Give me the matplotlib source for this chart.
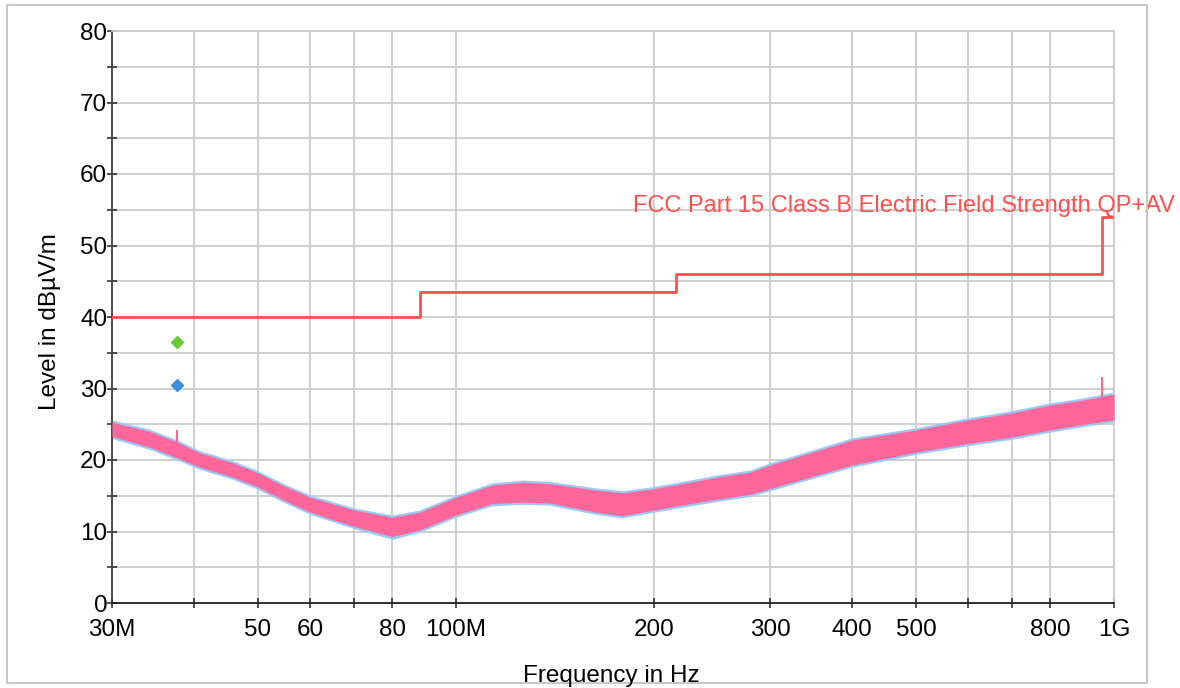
import matplotlib
matplotlib.use("Agg")
import matplotlib.pyplot as plt
from matplotlib.patches import Rectangle
from matplotlib.ticker import FixedLocator, NullLocator, MultipleLocator
import matplotlib.transforms as mtransforms

plt.rcParams['font.family'] = ['Liberation Sans', 'DejaVu Sans']

# ---------------- data ----------------
# Limit line (FCC Part 15 Class B, QP+AV), MHz / dBµV/m
limit_freq = [30, 88, 216, 960, 1000]
limit_level = [40, 43.5, 46, 54, 54]
limit_label = "FCC Part 15 Class B Electric Field Strength QP+AV"

trace_freq = [30, 34.2, 37.7, 40.8, 45.8, 50, 54.4, 60, 70, 80, 88, 100,
              113.5, 126, 138.6, 163, 179, 200, 224, 249, 280, 300, 400,
              500, 600, 700, 800, 900, 1000]
pink_low = [23.3, 21.8, 20.3, 19.0, 17.6, 16.2, 14.5, 12.7, 10.7, 9.3, 10.2, 12.3,
            13.9, 14.1, 14.0, 12.7, 12.2, 13.0, 13.8, 14.5, 15.2, 16.0, 19.3,
            21.1, 22.3, 23.2, 24.2, 25.0, 25.6]
pink_high = [25.3, 24.0, 22.5, 21.0, 19.6, 18.2, 16.5, 14.8, 13.0, 12.0, 12.7, 14.8,
             16.5, 16.9, 16.7, 15.8, 15.4, 16.0, 16.8, 17.6, 18.3, 19.3, 22.8,
             24.2, 25.6, 26.6, 27.7, 28.4, 29.2]
blue_low = [23.0, 21.5, 20.0, 18.7, 17.3, 15.9, 14.2, 12.4, 10.4, 8.9, 9.9, 12.0,
            13.6, 13.8, 13.7, 12.4, 11.9, 12.7, 13.5, 14.2, 14.9, 15.7, 19.0,
            20.8, 22.0, 22.9, 23.9, 24.7, 25.3]
blue_high = [25.6, 24.3, 22.8, 21.3, 19.9, 18.5, 16.8, 15.1, 13.3, 12.3, 13.0, 15.1,
             16.8, 17.2, 17.0, 16.1, 15.7, 16.3, 17.1, 17.9, 18.6, 19.6, 23.1,
             24.5, 25.9, 26.9, 28.0, 28.7, 29.5]

# Isolated spikes (MHz, bottom, top)
spike_freq = [37.7, 960]
spike_low = [20.5, 27.0]
spike_high = [24.2, 31.6]

# Final measurement markers
qp_freq = [37.7]
qp_level = [36.5]
av_freq = [37.7]
av_level = [30.5]

# Axis ticks
xtick_vals = [30, 40, 50, 60, 70, 80, 100, 200, 300, 400, 500, 600, 700, 800, 1000]
xtick_labels = ['30M', '', '50', '60', '', '80', '100M', '200', '300', '400',
                '500', '', '', '800', '1G']
ytick_vals = [0, 10, 20, 30, 40, 50, 60, 70, 80]

# ---------------- figure ----------------
W, H = 1180, 688
fig = plt.figure(figsize=(W / 100, H / 100), dpi=100)
ax = fig.add_axes([112 / W, 1 - 603 / H, (1114 - 112) / W, (603 - 31) / H])

ax.set_xscale('log')
ax.set_xlim(30, 1000)
ax.set_ylim(0, 80)

grid_col = '#cccccc'
ax.xaxis.set_major_locator(FixedLocator(xtick_vals))
ax.xaxis.set_minor_locator(NullLocator())
ax.set_xticklabels(xtick_labels)
ax.yaxis.set_major_locator(FixedLocator(ytick_vals))
ax.yaxis.set_minor_locator(MultipleLocator(5))
ax.grid(True, which='both', color=grid_col, linewidth=1.3)
ax.set_axisbelow(True)

for s in ['top', 'right']:
    ax.spines[s].set_color(grid_col)
    ax.spines[s].set_linewidth(1.3)
ax.spines['left'].set_color('#404040')
ax.spines['bottom'].set_color('#202020')
ax.spines['left'].set_linewidth(1.3)
ax.spines['bottom'].set_linewidth(1.3)

ax.tick_params(axis='both', which='both', direction='inout', length=7, width=1.1,
               colors='#202020', labelsize=17.5, labelcolor='black')
ax.tick_params(axis='x', pad=8)
ax.tick_params(axis='y', pad=0)

# trace
ax.fill_between(trace_freq, blue_low, blue_high, color='#99c9f5', linewidth=0, zorder=2)
ax.fill_between(trace_freq, pink_low, pink_high, color='#ff6699', linewidth=0, zorder=3)
ax.vlines(spike_freq, spike_low, spike_high, color='#ff6699', linewidth=1.5, zorder=3)

# limit
ax.step(limit_freq, limit_level, where='post', color='#ff4f4f', linewidth=2, zorder=4)
tr = mtransforms.blended_transform_factory(fig.transFigure, ax.transData)
ax.text(1175 / W, 54.7, limit_label, transform=tr, ha='right', va='baseline',
        color='#ff4f4f', fontsize=17, clip_on=False, zorder=5)

# markers
ax.plot(qp_freq, qp_level, linestyle='none', marker='D', markersize=6,
        color='#66cc33', zorder=5)
ax.plot(av_freq, av_level, linestyle='none', marker='D', markersize=6,
        color='#3d8fdb', zorder=5)

# axis labels
fig.text(50 / W, 1 - 322 / H, 'Level in dBµV/m', rotation=90, ha='center',
         va='center', fontsize=17.5)
fig.text(611 / W, 1 - 682 / H, 'Frequency in Hz', ha='center', va='baseline',
         fontsize=17.5)

# outer border
fig.patches.append(Rectangle((7 / W, 1 - 683 / H), (1147 - 7) / W, (683 - 5) / H,
                             transform=fig.transFigure, fill=False,
                             edgecolor='#c8c8c8', linewidth=1.5, zorder=0))

fig.savefig('out.png', dpi=100)
